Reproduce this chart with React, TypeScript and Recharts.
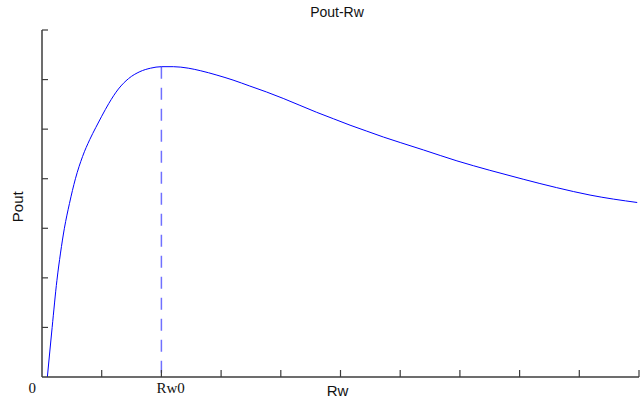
import { LineChart, Line, XAxis, YAxis, ReferenceLine } from "recharts";

const rwValues = [
    0.09, 0.17, 0.25, 0.31, 0.375, 0.46, 0.56, 0.68, 0.8, 0.9, 1.0, 1.12, 1.28,
    1.45, 1.64, 1.82, 2.0, 2.2, 2.45, 2.65, 2.93, 3.2, 3.48, 3.76, 4.04, 4.32,
    4.6, 4.88, 5.16, 5.44, 5.72, 6.0, 6.39, 6.95, 7.5, 8.06, 8.62, 9.18, 9.97,
];
const poutValues = [
    0, 1.0, 1.95, 2.5, 3.0, 3.5, 4.0, 4.45, 4.79, 5.03, 5.26, 5.52, 5.81,
    6.02, 6.16, 6.23, 6.26, 6.26, 6.23, 6.18, 6.09, 5.99, 5.87, 5.75, 5.62,
    5.48, 5.34, 5.21, 5.08, 4.96, 4.84, 4.73, 4.58, 4.36, 4.17, 3.99, 3.82,
    3.67, 3.52,
];
const xTicks = [0, 1, 2, 3, 4, 5, 6, 7, 8, 9, 10];
const yTicks = [0, 1, 2, 3, 4, 5, 6, 7];
const rw0 = 2;
const poutMax = 6.26;

const data = rwValues.map((rw, i) => ({ rw, pout: poutValues[i] }));

const AXIS = "#3c3c3c";

function XTick({ x, y, payload }: any) {
    const v = payload.value;
    return (
        <g>
            {v !== 0 && (
                <line x1={x} y1={y} x2={x} y2={y - 7} stroke={AXIS} strokeWidth={1.2} />
            )}
            {v === 0 && (
                <text x={x - 6} y={y + 16} textAnchor="end" fontFamily="'Liberation Serif', serif" fontSize={15} fill="#111">
                    0
                </text>
            )}
            {v === rw0 && (
                <text x={x - 5} y={y + 16} textAnchor="start" fontFamily="'Liberation Serif', serif" fontSize={15} fill="#111">
                    Rw0
                </text>
            )}
        </g>
    );
}

function YTick({ x, y, payload }: any) {
    if (payload.value === 0) return <g />;
    return <line x1={x} y1={y} x2={x + 6} y2={y} stroke={AXIS} strokeWidth={1.2} />;
}

export default function App() {
    return (
        <div style={{ position: "absolute", left: 0, top: 0, width: 640, height: 402, background: "#fff" }}>
            <LineChart
                width={640}
                height={402}
                data={data}
                margin={{ top: 30, right: 1, left: 41, bottom: 24 }}
            >
                <XAxis
                    type="number"
                    dataKey="rw"
                    domain={[0, 10]}
                    ticks={xTicks}
                    height={1}
                    tickSize={0}
                    tickMargin={0}
                    tickLine={false}
                    tick={<XTick />}
                    axisLine={{ stroke: AXIS, strokeWidth: 1.5 }}
                    interval={0}
                />
                <YAxis
                    type="number"
                    domain={[0, 7]}
                    ticks={yTicks}
                    width={1}
                    tickSize={0}
                    tickMargin={0}
                    tickLine={false}
                    tick={<YTick />}
                    axisLine={{ stroke: AXIS, strokeWidth: 1.5 }}
                    interval={0}
                />
                <ReferenceLine
                    segment={[
                        { x: rw0, y: poutMax },
                        { x: rw0, y: 0 },
                    ]}
                    stroke="#7070ff"
                    strokeWidth={1.5}
                    strokeDasharray="12 9"
                />
                <Line
                    type="monotone"
                    dataKey="pout"
                    stroke="#0000ff"
                    strokeWidth={1}
                    dot={false}
                    isAnimationActive={false}
                />
            </LineChart>
            <svg
                width={640}
                height={402}
                style={{ position: "absolute", left: 0, top: 0, pointerEvents: "none" }}
            >
                <text x={337} y={17} textAnchor="middle" fontFamily="'Liberation Sans', Arial, sans-serif" fontSize={14} fill="#111">
                    Pout-Rw
                </text>
                <text x={337.5} y={396} textAnchor="middle" fontFamily="'Liberation Sans', Arial, sans-serif" fontSize={15} fill="#111">
                    Rw
                </text>
                <text
                    x={23}
                    y={206.7}
                    textAnchor="middle"
                    transform="rotate(-90 23 206.7)"
                    fontFamily="'Liberation Sans', Arial, sans-serif"
                    fontSize={15}
                    fill="#111"
                >
                    Pout
                </text>
            </svg>
        </div>
    );
}
